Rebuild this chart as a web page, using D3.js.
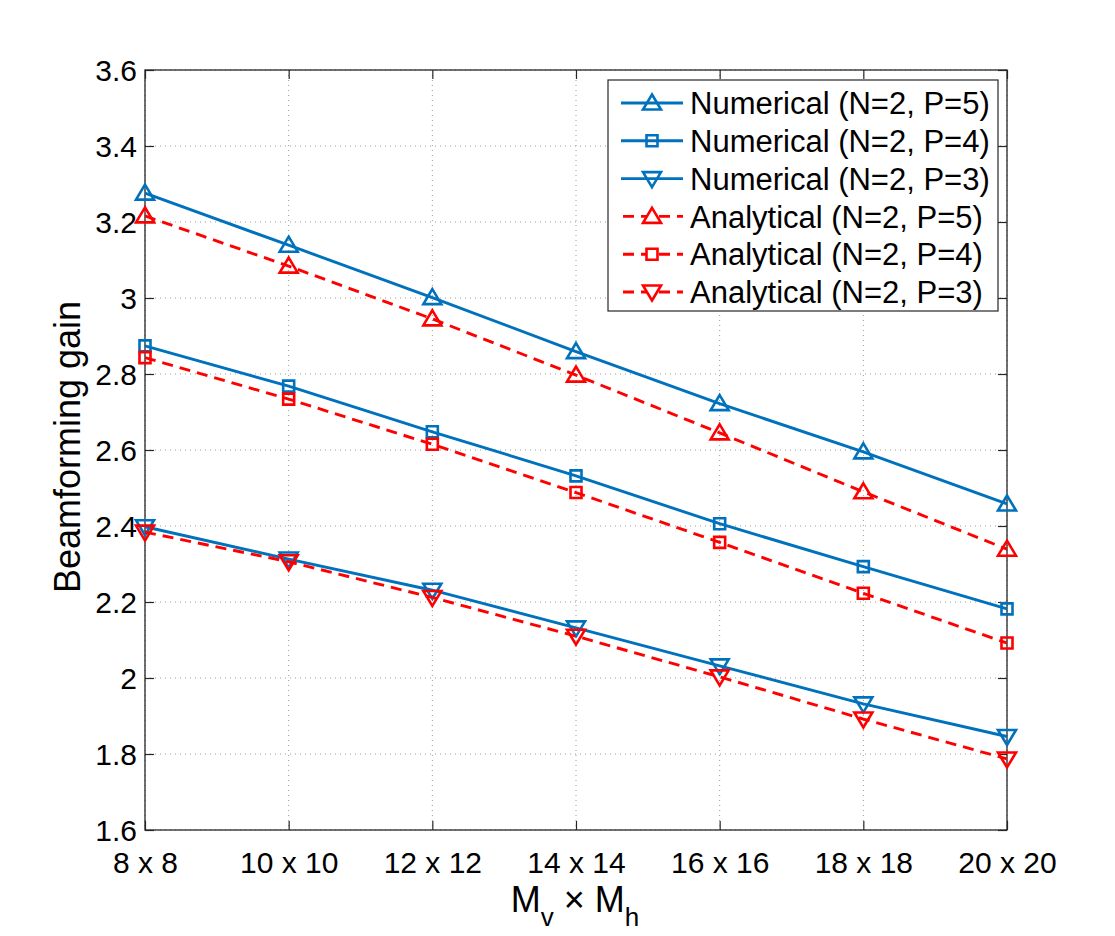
<!DOCTYPE html>
<html>
<head>
<meta charset="utf-8">
<script src="https://cdn.jsdelivr.net/npm/d3@7"></script>
<style>
  body { margin: 0; background: #fff; }
  svg text { font-family: "Liberation Sans", Arial, Helvetica, sans-serif; fill: #000; }
</style>
</head>
<body>
<script>
// array sizes on the x axis
let sizes = [8, 10, 12, 14, 16, 18, 20];
let sizeLabels = ['8 x 8', '10 x 10', '12 x 12', '14 x 14', '16 x 16', '18 x 18', '20 x 20'];
let yTicks = [1.6, 1.8, 2, 2.2, 2.4, 2.6, 2.8, 3, 3.2, 3.4, 3.6];

// series
let numP5 = [3.276, 3.139, 3.001, 2.859, 2.722, 2.595, 2.458];
let numP4 = [2.874, 2.768, 2.648, 2.532, 2.406, 2.293, 2.182];
let numP3 = [2.398, 2.313, 2.231, 2.132, 2.032, 1.932, 1.846];
let anaP5 = [3.216, 3.084, 2.945, 2.797, 2.645, 2.490, 2.339];
let anaP4 = [2.843, 2.734, 2.615, 2.488, 2.357, 2.223, 2.092];
let anaP3 = [2.384, 2.306, 2.212, 2.110, 2.003, 1.892, 1.787];

let seriesNames = [
    'Numerical (N=2, P=5)', 'Numerical (N=2, P=4)', 'Numerical (N=2, P=3)',
    'Analytical (N=2, P=5)', 'Analytical (N=2, P=4)', 'Analytical (N=2, P=3)'
];
let seriesValues = [numP5, numP4, numP3, anaP5, anaP4, anaP3];
let seriesMarkers = ['up', 'square', 'down', 'up', 'square', 'down'];

let blue = '#0072bd', red = '#ff0000';

let W = 1115, H = 936;
let plot = {left: 145, right: 1007, top: 70, bottom: 830};

let svg = d3.select('body').append('svg')
    .attr('width', W)
    .attr('height', H);

let x = d3.scaleLinear().domain([8, 20]).range([plot.left, plot.right]);
let y = d3.scaleLinear().domain([1.6, 3.6]).range([plot.bottom, plot.top]);

// Grid (dotted)
let grid = svg.append('g').attr('class', 'grid');
sizes.forEach(s => {
    grid.append('line')
        .attr('x1', x(s)).attr('x2', x(s))
        .attr('y1', plot.top).attr('y2', plot.bottom)
        .attr('stroke', '#9a9a9a').attr('stroke-width', 1)
        .attr('stroke-dasharray', '1,4');
});
yTicks.forEach(t => {
    grid.append('line')
        .attr('x1', plot.left).attr('x2', plot.right)
        .attr('y1', y(t)).attr('y2', y(t))
        .attr('stroke', '#9a9a9a').attr('stroke-width', 1)
        .attr('stroke-dasharray', '1,4');
});

// Axes with inner ticks
let xAxis = d3.axisBottom(x).tickValues(sizes)
    .tickFormat((d, i) => sizeLabels[i]).tickSizeInner(-9).tickSizeOuter(0).tickPadding(22);
let yAxis = d3.axisLeft(y).tickValues(yTicks)
    .tickFormat(d3.format('')).tickSizeInner(-9).tickSizeOuter(0).tickPadding(8);

let gx = svg.append('g').attr('transform', `translate(0,${plot.bottom})`).call(xAxis);
let gy = svg.append('g').attr('transform', `translate(${plot.left},0)`).call(yAxis);
let gxTop = svg.append('g').attr('transform', `translate(0,${plot.top})`)
    .call(d3.axisTop(x).tickValues(sizes).tickSizeInner(-9).tickSizeOuter(0).tickFormat(''));
let gyRight = svg.append('g').attr('transform', `translate(${plot.right},0)`)
    .call(d3.axisRight(y).tickValues(yTicks).tickSizeInner(-9).tickSizeOuter(0).tickFormat(''));

[gx, gy, gxTop, gyRight].forEach(g => {
    g.select('.domain').remove();
    g.selectAll('.tick line').attr('stroke', '#262626').attr('stroke-width', 1.2);
});
gx.selectAll('.tick text').attr('font-size', 30).attr('fill', '#000');
gy.selectAll('.tick text').attr('font-size', 30).attr('fill', '#000').attr('dy', '0.36em');

// box
svg.append('rect')
    .attr('x', plot.left).attr('y', plot.top)
    .attr('width', plot.right - plot.left).attr('height', plot.bottom - plot.top)
    .attr('fill', 'none').attr('stroke', '#262626').attr('stroke-width', 1.3);

// markers
function markerPath(type) {
    if (type === 'up') return 'M0,-8.5 L9,6.5 L-9,6.5 Z';
    if (type === 'down') return 'M0,8.5 L9,-6.5 L-9,-6.5 Z';
    return 'M-5.5,-5.5 L5.5,-5.5 L5.5,5.5 L-5.5,5.5 Z';
}

let line = d3.line().x((d, i) => x(sizes[i])).y(d => y(d));

seriesValues.forEach((vals, k) => {
    let numerical = k < 3;
    let col = numerical ? blue : red;
    let g = svg.append('g').attr('class', 'series');
    g.append('path')
        .datum(vals)
        .attr('d', line)
        .attr('fill', 'none')
        .attr('stroke', col)
        .attr('stroke-width', 2.9)
        .attr('stroke-dasharray', numerical ? null : '11,7');
    g.selectAll('.mk').data(vals).enter().append('path')
        .attr('class', 'mk')
        .attr('transform', (d, i) => `translate(${x(sizes[i])},${y(d)})`)
        .attr('d', markerPath(seriesMarkers[k]))
        .attr('fill', 'none')
        .attr('stroke', col)
        .attr('stroke-width', 2.6);
});

// legend
let leg = svg.append('g').attr('transform', 'translate(608,80)');
leg.append('rect')
    .attr('width', 390).attr('height', 231)
    .attr('fill', '#fff').attr('stroke', '#262626').attr('stroke-width', 1.2);
seriesNames.forEach((name, k) => {
    let numerical = k < 3;
    let col = numerical ? blue : red;
    let cy = 23 + k * 37.8;
    leg.append('line')
        .attr('x1', 13).attr('x2', 75).attr('y1', cy).attr('y2', cy)
        .attr('stroke', col).attr('stroke-width', 2.9)
        .attr('stroke-dasharray', numerical ? null : '11,7')
        .attr('stroke-dashoffset', numerical ? 0 : -2);
    leg.append('path')
        .attr('transform', `translate(44,${cy})`)
        .attr('d', markerPath(seriesMarkers[k]))
        .attr('fill', numerical ? 'none' : '#fff')
        .attr('stroke', col).attr('stroke-width', 2.6);
    leg.append('text')
        .attr('x', 82).attr('y', cy).attr('dy', '0.36em')
        .attr('font-size', 31)
        .text(name);
});

// axis labels
svg.append('text')
    .attr('transform', 'translate(80,447) rotate(-90)')
    .attr('text-anchor', 'middle')
    .attr('font-size', 36)
    .text('Beamforming gain');

let xl = svg.append('text')
    .attr('x', 575).attr('y', 912)
    .attr('text-anchor', 'middle')
    .attr('font-size', 36);
xl.append('tspan').text('M');
xl.append('tspan').attr('font-size', 26).attr('dy', 14).text('v');
xl.append('tspan').attr('dy', -14).text(' \u00d7 M');
xl.append('tspan').attr('font-size', 26).attr('dy', 14).text('h');
</script>
</body>
</html>
